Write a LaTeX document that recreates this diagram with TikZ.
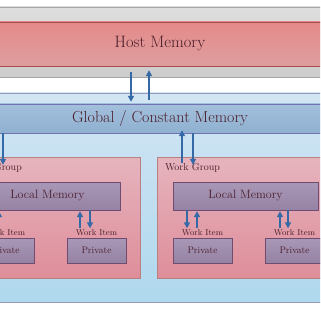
\documentclass[tikz,border=0pt]{standalone}
\usepackage{tikz}
\usetikzlibrary{positioning,arrows.meta}
\usepackage{xcolor}

\definecolor{inktext}{HTML}{4A1E2C}
\definecolor{flowblue}{HTML}{3569A6}
\definecolor{hosttop}{HTML}{E58A8A}
\definecolor{hostbot}{HTML}{DE9E9E}
\definecolor{devtop}{HTML}{D2E5F3}
\definecolor{devbot}{HTML}{AFD8EE}
\definecolor{globtop}{HTML}{A3C0DC}
\definecolor{globbot}{HTML}{8FB0D0}
\definecolor{grptop}{HTML}{E6B4BE}
\definecolor{grpbot}{HTML}{DE8E9A}
\definecolor{loctop}{HTML}{A898B6}
\definecolor{locbot}{HTML}{9682A4}

\tikzset{
    band/.style={draw=black!35, top color=black!13, bottom color=black!20, minimum width=330pt, minimum height=70pt, inner sep=0pt},
    hostbox/.style={draw=red!50!black!70, top color=hosttop, bottom color=hostbot,
        minimum width=330pt, minimum height=44pt, inner sep=0pt, text=inktext, font=\fontsize{16.5}{19}\selectfont},
    devbox/.style={draw=blue!30!black!40, top color=devtop, bottom color=devbot,
        minimum width=330pt, minimum height=209pt, inner sep=0pt},
    globbox/.style={draw=blue!45!black!55, top color=globtop, bottom color=globbot,
        minimum width=330pt, minimum height=29pt, inner sep=0pt, text=inktext, font=\fontsize{16}{19}\selectfont},
    groupbox/.style={draw=red!45!black!50, top color=grptop, bottom color=grpbot,
        minimum width=181pt, minimum height=121pt, inner sep=0pt},
    localbox/.style={draw=violet!40!black!70, top color=loctop, bottom color=locbot,
        minimum width=145pt, minimum height=28pt, inner sep=0pt, text=inktext, font=\fontsize{12}{14}\selectfont},
    privbox/.style={localbox, minimum width=59pt, minimum height=25pt, font=\fontsize{9.5}{11}\selectfont},
    smalltag/.style={inner sep=1pt, text=inktext, font=\fontsize{8.5}{10}\selectfont},
    grouptag/.style={inner sep=0pt, text=inktext, font=\fontsize{10}{12}\selectfont, anchor=north west},
    flow/.style={->, draw=flowblue, line width=1.6pt}
}

\begin{document}
\begin{tikzpicture}[x=1pt, y=-1pt, >={Triangle[width=6pt,length=6pt]}]

    \useasboundingbox (0,0) rectangle (320,320);
    \clip (0,0) rectangle (320,320);

    % host side
    \node[band] (hostband) at (160,42) {};
    \node[hostbox] (host) at (160,44) {Host Memory};

    % device side
    \node[devbox] (dev) at (160,197.5) {};
    \node[globbox] (glob) at (160,118.5) {Global / Constant Memory};

    % work groups
    \foreach \g/\cx in {1/49.5, 2/247.5}{
        \node[groupbox] (wg\g) at (\cx,217.5) {};
        \node[grouptag, below right=6pt and 8pt of wg\g.north west, anchor=north west] (wgtag\g) {Work Group};
        \node[localbox] (loc\g) at (\cx-2,196) {Local Memory};
        \node[privbox] (p\g1) at (\cx-45,250.5) {Private};
        \node[privbox] (p\g2) at (\cx+47,250.5) {Private};
        \node[smalltag, above=1pt of p\g1] (wi\g1) {Work Item};
        \node[smalltag, above=1pt of p\g2] (wi\g2) {Work Item};
    }

    % host <-> global
    \draw[flow, shorten <=6pt, shorten >=2pt] (host.south -| 131,0) -- (glob.north -| 131,0);
    \draw[flow, shorten <=4pt, shorten >=4pt] (glob.north -| 149,0) -- (host.south -| 149,0);

    % global <-> work groups
    \foreach \g/\xd/\xu in {1/3/-8, 2/193/182}{
        \draw[flow, shorten >=-8pt] (glob.south -| \xd,0) -- (wg\g.north -| \xd,0);
        \draw[flow, shorten <=-6pt, shorten >=-3pt] (wg\g.north -| \xu,0) -- (glob.south -| \xu,0);
    }

    % local <-> work items
    \foreach \g/\i/\xd/\xu in {1/1/-11/-1, 1/2/90/80, 2/1/187/197, 2/2/288/280}{
        \draw[flow] (loc\g.south -| \xd,0) -- (wi\g\i.north -| \xd,0);
        \draw[flow, shorten >=1pt] (wi\g\i.north -| \xu,0) -- (loc\g.south -| \xu,0);
    }
\end{tikzpicture}
\end{document}
